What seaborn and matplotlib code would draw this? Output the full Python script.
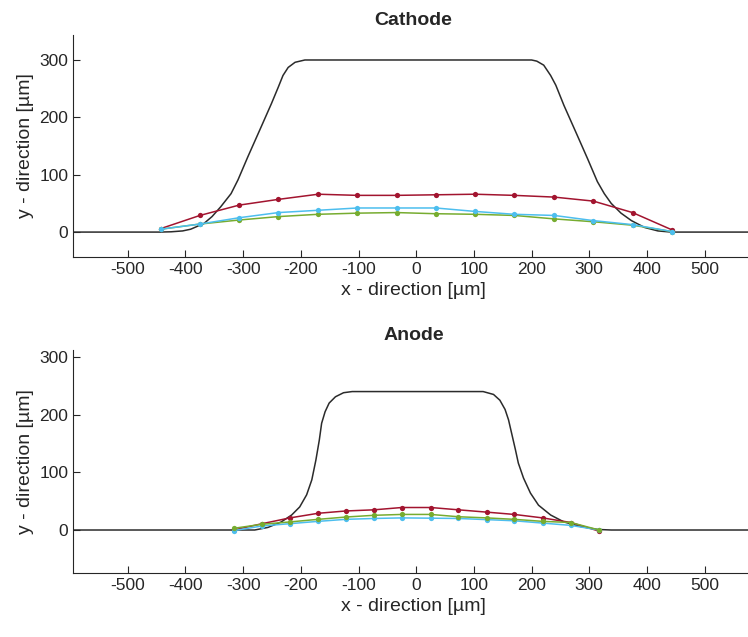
import numpy as np
import pandas as pd
import matplotlib
matplotlib.use("Agg")
import matplotlib.pyplot as plt
import seaborn as sns

# measured points (x in um, y in um)
cathode_x = [-443, -375, -307, -239, -170, -102, -34, 34, 102, 170, 239, 307, 375, 443]
cathode_red = [6, 29, 47, 57, 66, 64, 64, 65, 66, 64, 61, 54, 34, 4]
cathode_blue = [5, 14, 25, 34, 38, 42, 42, 42, 36, 31, 29, 20, 13, 1]
cathode_green = [5, 14, 21, 27, 31, 33, 34, 32, 31, 29, 23, 18, 12, 1]

anode_x = [-316, -267, -219, -170, -122, -73, -25, 25, 73, 122, 170, 219, 268, 317]
anode_red = [0, 11, 21, 29, 33, 35, 39, 39, 35, 31, 27, 21, 13, -2]
anode_green = [3, 10, 14, 18.5, 22.5, 25.5, 27, 27, 23, 21, 18.5, 15, 13, 0]
anode_blue = [-1, 7, 11, 15, 18.5, 20, 21, 20.5, 20, 18, 16, 12, 8, 0]

# electrode surface profiles (traced)
cathode_prof_x = [-600, -445, -425, -405, -391, -368, -354, -339, -321, -309, -292,
                  -269, -251, -239, -231, -222, -210, -193, 200, 209, 221, 233,
                  242, 256, 279, 297, 314, 326, 338, 355, 373, 396, 419, 442, 600]
cathode_prof_y = [0, 0, 0.5, 2, 5, 15, 27, 44, 67, 91, 131, 183, 224, 253, 273,
                  287, 296, 300, 300, 298, 291, 273, 256, 221, 169, 128, 88, 67,
                  50, 33, 20, 8, 2, 0, 0]

anode_prof_x = [-600, -300, -280, -257, -234, -216, -202, -190, -181, -174, -168,
                -164, -158, -151, -140, -126, -111, 116, 134, 145, 154, 160, 166,
                172, 177, 186, 198, 212, 233, 256, 285, 314, 338, 600]
anode_prof_y = [0, 0, 0, 4.5, 14, 26, 40, 61, 87, 121, 156, 185, 205, 220, 231,
                238, 240, 240, 235, 225, 209, 191, 165, 139, 116, 90, 64, 43, 26,
                14, 6, 1, 0, 0]

sns.set_style("ticks")
plt.rcParams['font.family'] = ['Liberation Sans', 'DejaVu Sans']
plt.rcParams['axes.unicode_minus'] = False
plt.rcParams['xtick.direction'] = 'in'
plt.rcParams['ytick.direction'] = 'in'

red = "#A2142F"
blue = "#4DBEEE"
green = "#77AC30"

fig = plt.figure(figsize=(7.48, 6.37), dpi=100)
ax1 = fig.add_axes([0.0976, 0.5965, 0.91, 0.3485])
ax2 = fig.add_axes([0.0976, 0.1005, 0.91, 0.350])


def draw(ax, px, py, x, series, title, ylim):
    sns.lineplot(x=px, y=py, ax=ax, color="#2b2b2b", linewidth=1.1, sort=False)
    for vals, col in series:
        sns.lineplot(x=x, y=vals, ax=ax, color=col, linewidth=1.1, marker='o',
                     markersize=3.8, markeredgewidth=0, sort=False)
    ax.set_xlim(-595, 585)
    ax.set_ylim(*ylim)
    ax.set_xticks([-500, -400, -300, -200, -100, 0, 100, 200, 300, 400, 500])
    ax.set_yticks([0, 100, 200, 300])
    ax.tick_params(labelsize=12.5, colors="#262626", length=5, width=0.8)
    ax.set_xlabel("x - direction [µm]", fontsize=14, color="#262626")
    ax.set_ylabel("y - direction [µm]", fontsize=14, color="#262626")
    ax.set_title(title, fontsize=14, fontweight='bold', pad=7)
    sns.despine(ax=ax)
    for s in ['left', 'bottom']:
        ax.spines[s].set_color("#262626")
        ax.spines[s].set_linewidth(0.8)


draw(ax1, cathode_prof_x, cathode_prof_y, cathode_x,
     [(cathode_red, red), (cathode_green, green), (cathode_blue, blue)],
     "Cathode", (-43.5, 343.5))
draw(ax2, anode_prof_x, anode_prof_y, anode_x,
     [(anode_red, red), (anode_blue, blue), (anode_green, green)],
     "Anode", (-74.5, 312))

fig.savefig("out.png", dpi=100)
